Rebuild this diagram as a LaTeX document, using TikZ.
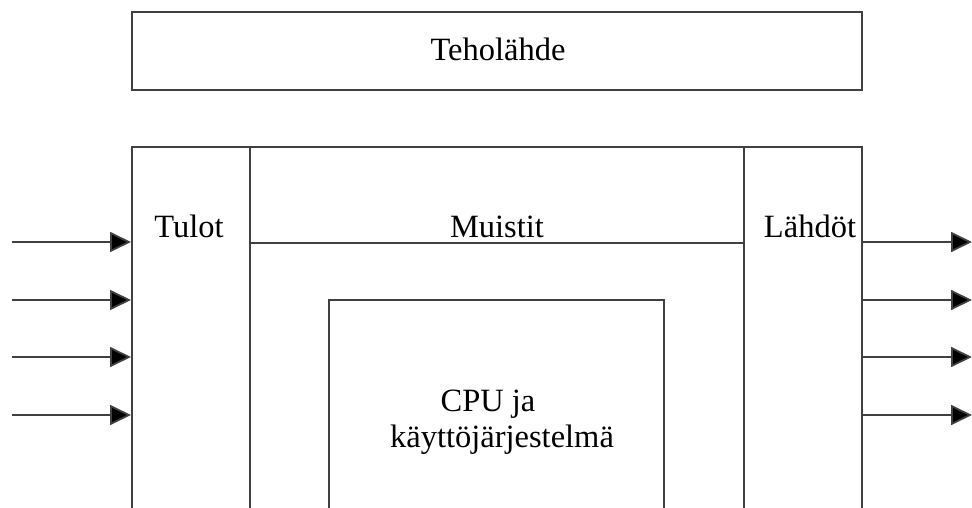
\documentclass[tikz,border=0pt]{standalone}
\usepackage{fontspec}
\setmainfont{Liberation Serif}
\usetikzlibrary{arrows.meta}
\tikzset{
  box/.style={draw=black!75, line width=1.8pt, rectangle, inner sep=0pt, anchor=north west},
  lbl/.style={font=\fontsize{32.5}{38}\selectfont, inner sep=0pt, anchor=base, text=black},
  sig/.style={draw=black!75, line width=1.8pt, -{Triangle[length=21pt,width=20pt,fill=black]}},
}
\begin{document}
\begin{tikzpicture}[x=1pt,y=-1pt]
\useasboundingbox (0,0) rectangle (972,508);
\clip (0,0) rectangle (972,508);
% power supply
\node[box, minimum width=730pt, minimum height=78pt] (teho) at (131,11) {};
\node[lbl] (tehot) at (498,61) {Teholähde};
% main columns
\node[box, minimum width=118pt, minimum height=420pt] (tulot) at (131,146) {};
\node[box, minimum width=118pt, minimum height=420pt] (lahdot) at (743,146) {};
\node[box, minimum width=494pt, minimum height=96pt] (muistit) at (249,146) {};
\node[box, minimum width=335pt, minimum height=300pt] (cpu) at (328,299) {};
% labels
\node[lbl] (tulott) at (189,237) {Tulot};
\node[lbl] (muistitt) at (497,237) {Muistit};
\node[lbl] (lahdott) at (810,237) {Lähdöt};
\node[lbl] (cput1) at (488,411) {CPU ja};
\node[lbl] (cput2) at (502,447) {käyttöjärjestelmä};
% inputs and outputs
\foreach \i/\y in {1/242,2/300,3/357,4/415}{
  \coordinate (in\i) at (12,\y);
  \draw[sig] (in\i) -- (tulot.west |- in\i);
  \coordinate (out\i) at (972,\y);
  \draw[sig] (lahdot.east |- out\i) -- (out\i);
}
\end{tikzpicture}
\end{document}
